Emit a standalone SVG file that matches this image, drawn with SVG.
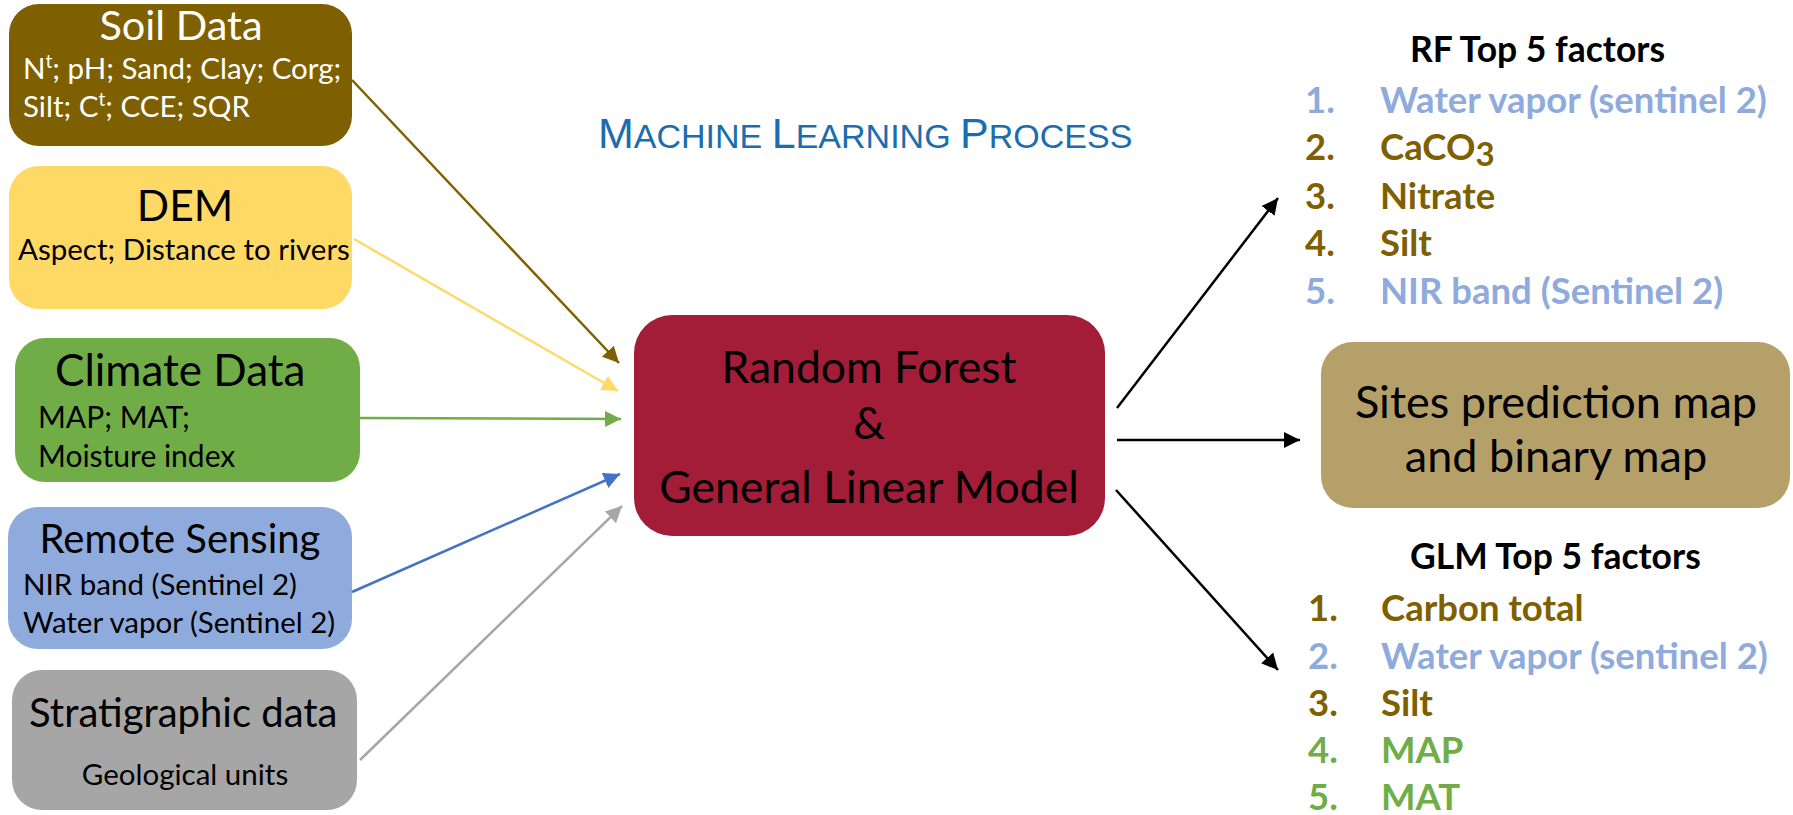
<svg xmlns="http://www.w3.org/2000/svg" width="1793" height="815" viewBox="0 0 1793 815">
<style>
  .t{font-family:Lato,"Open Sans","Liberation Sans",sans-serif;}
  .ttl{font-size:40px;}
  .sub{font-size:29.5px;}
  .big{font-size:44.5px;}
  .li{font-size:36.5px;font-weight:bold;}
  .hd{font-size:35.5px;font-weight:bold;fill:#000;}
  .bl{fill:#8FAADC;} .br{fill:#7F6000;} .gr{fill:#70AD47;}
  .ln{fill:none;stroke-width:2.5;}
</style>
<defs>
  <marker id="aBr" viewBox="0 0 10 10" refX="10" refY="5" markerWidth="6.5" markerHeight="6.5" orient="auto" markerUnits="strokeWidth"><path d="M0,0L10,5L0,10z" fill="#7F6000"/></marker>
  <marker id="aYe" viewBox="0 0 10 10" refX="10" refY="5" markerWidth="6.5" markerHeight="6.5" orient="auto" markerUnits="strokeWidth"><path d="M0,0L10,5L0,10z" fill="#FFD966"/></marker>
  <marker id="aGr" viewBox="0 0 10 10" refX="10" refY="5" markerWidth="6.5" markerHeight="6.5" orient="auto" markerUnits="strokeWidth"><path d="M0,0L10,5L0,10z" fill="#70AD47"/></marker>
  <marker id="aBl" viewBox="0 0 10 10" refX="10" refY="5" markerWidth="6.5" markerHeight="6.5" orient="auto" markerUnits="strokeWidth"><path d="M0,0L10,5L0,10z" fill="#4472C4"/></marker>
  <marker id="aGy" viewBox="0 0 10 10" refX="10" refY="5" markerWidth="6.5" markerHeight="6.5" orient="auto" markerUnits="strokeWidth"><path d="M0,0L10,5L0,10z" fill="#A6A6A6"/></marker>
  <marker id="aBk" viewBox="0 0 10 10" refX="10" refY="5" markerWidth="6.5" markerHeight="6.5" orient="auto" markerUnits="strokeWidth"><path d="M0,0L10,5L0,10z" fill="#000"/></marker>
</defs>
<rect width="1793" height="815" fill="#fff"/>

<text x="598" y="148" fill="#1B6DB0" style="font-family:'Liberation Sans',Arial,sans-serif"><tspan font-size="43">M</tspan><tspan font-size="34">ACHINE </tspan><tspan font-size="43">L</tspan><tspan font-size="34">EARNING </tspan><tspan font-size="43">P</tspan><tspan font-size="34">ROCESS</tspan></text>

<g id="soil">
  <rect x="9" y="4" width="343" height="142" rx="30" fill="#7F6000"/>
  <text class="t ttl" x="181" y="40" text-anchor="middle" fill="#fff" style="font-size:41.5px">Soil Data</text>
  <text class="t sub" x="23" y="79" fill="#fff">N<tspan font-size="19" dy="-11">t</tspan><tspan dy="11">; pH; Sand; Clay; Corg;</tspan></text>
  <text class="t sub" x="23" y="117" fill="#fff">Silt; C<tspan font-size="19" dy="-11">t</tspan><tspan dy="11">; CCE; SQR</tspan></text>
</g>
<g id="dem">
  <rect x="9" y="166" width="343" height="143" rx="30" fill="#FFD966"/>
  <text class="t ttl" x="185" y="221" text-anchor="middle" fill="#000" style="font-size:42.5px">DEM</text>
  <text class="t sub" x="18" y="260" fill="#000">Aspect; Distance to rivers</text>
</g>
<g id="climate">
  <rect x="15" y="338" width="345" height="144" rx="30" fill="#70AD47"/>
  <text class="t ttl" x="55" y="386" fill="#000" style="font-size:44px">Climate Data</text>
  <text class="t sub" x="38" y="428" fill="#000" style="font-size:30px">MAP; MAT;</text>
  <text class="t sub" x="38" y="467" fill="#000" style="font-size:30px">Moisture index</text>
</g>
<g id="remote">
  <rect x="8" y="507" width="344" height="142" rx="30" fill="#8FAADC"/>
  <text class="t ttl" x="180" y="553" text-anchor="middle" fill="#000">Remote Sensing</text>
  <text class="t sub" x="23" y="595" fill="#000">NIR band (Sentinel 2)</text>
  <text class="t sub" x="23" y="633" fill="#000">Water vapor (Sentinel 2)</text>
</g>
<g id="strat">
  <rect x="12" y="670" width="345" height="140" rx="30" fill="#A6A6A6"/>
  <text class="t ttl" x="29" y="727" fill="#000">Stratigraphic data</text>
  <text class="t sub" x="185" y="785" text-anchor="middle" fill="#000">Geological units</text>
</g>
<g id="model">
  <rect x="634" y="315" width="471" height="221" rx="38" fill="#A31D38"/>
  <text class="t big" x="869" y="383" text-anchor="middle" fill="#000">Random Forest</text>
  <text class="t big" x="869" y="439" text-anchor="middle" fill="#000">&amp;</text>
  <text class="t big" x="869" y="503" text-anchor="middle" fill="#000">General Linear Model</text>
</g>
<g id="sites">
  <rect x="1321" y="342" width="469" height="166" rx="32" fill="#B5A06A"/>
  <text class="t big" x="1556" y="418" text-anchor="middle" fill="#000" style="font-size:45px">Sites prediction map</text>
  <text class="t big" x="1556" y="472" text-anchor="middle" fill="#000" style="font-size:45px">and binary map</text>
</g>
<g id="rf-list">
  <text class="t hd" x="1410" y="62">RF Top 5 factors</text>
  <text class="t li bl" x="1305" y="113">1.</text><text class="t li bl" x="1380" y="113">Water vapor (sentinel 2)</text>
  <text class="t li br" x="1305" y="160">2.</text><text class="t li br" x="1380" y="160">CaCO<tspan dy="6" font-size="33">3</tspan></text>
  <text class="t li br" x="1305" y="209">3.</text><text class="t li br" x="1380" y="209">Nitrate</text>
  <text class="t li br" x="1305" y="256">4.</text><text class="t li br" x="1380" y="256">Silt</text>
  <text class="t li bl" x="1305" y="304">5.</text><text class="t li bl" x="1380" y="304">NIR band (Sentinel 2)</text>
</g>
<g id="glm-list">
  <text class="t hd" x="1410" y="569">GLM Top 5 factors</text>
  <text class="t li br" x="1308" y="621">1.</text><text class="t li br" x="1381" y="621">Carbon total</text>
  <text class="t li bl" x="1308" y="669">2.</text><text class="t li bl" x="1381" y="669">Water vapor (sentinel 2)</text>
  <text class="t li br" x="1308" y="716">3.</text><text class="t li br" x="1381" y="716">Silt</text>
  <text class="t li gr" x="1308" y="763">4.</text><text class="t li gr" x="1381" y="763">MAP</text>
  <text class="t li gr" x="1308" y="810">5.</text><text class="t li gr" x="1381" y="810">MAT</text>
</g>
<g id="connectors">
  <line class="ln" x1="352" y1="80" x2="619" y2="363" stroke="#7F6000" marker-end="url(#aBr)"/>
  <line class="ln" x1="354" y1="239" x2="618" y2="391" stroke="#FFD966" marker-end="url(#aYe)"/>
  <line class="ln" x1="360" y1="418" x2="621" y2="419" stroke="#70AD47" marker-end="url(#aGr)"/>
  <line class="ln" x1="352" y1="592" x2="620" y2="474" stroke="#4472C4" marker-end="url(#aBl)"/>
  <line class="ln" x1="360" y1="760" x2="622" y2="506" stroke="#A6A6A6" marker-end="url(#aGy)"/>
  <line class="ln" x1="1117" y1="408" x2="1278" y2="198" stroke="#000" marker-end="url(#aBk)"/>
  <line class="ln" x1="1117" y1="440" x2="1300" y2="440" stroke="#000" marker-end="url(#aBk)"/>
  <line class="ln" x1="1116" y1="490" x2="1278" y2="670" stroke="#000" marker-end="url(#aBk)"/>
</g>
</svg>
